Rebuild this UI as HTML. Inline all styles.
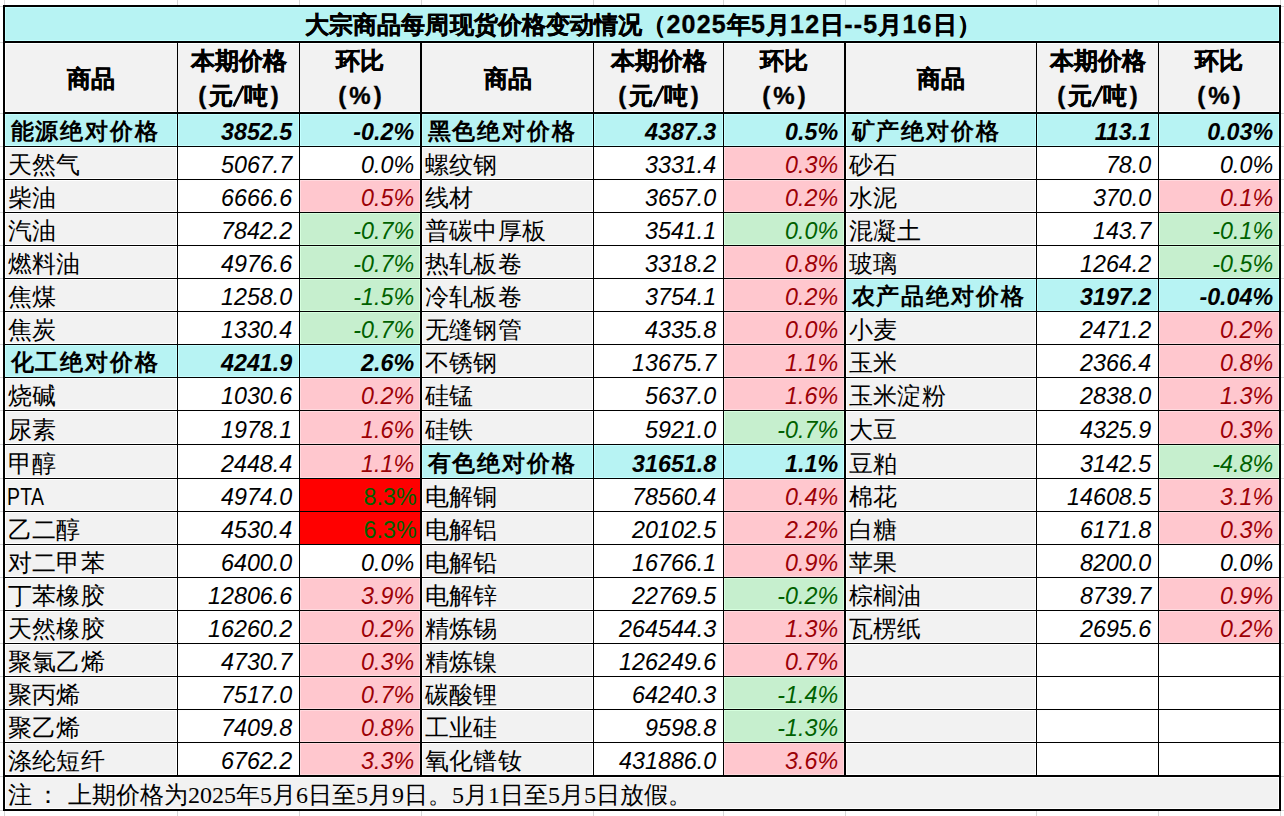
<!DOCTYPE html><html><head><meta charset="utf-8"><style>
html,body{margin:0;padding:0;background:#fff;}
body{width:1284px;height:816px;position:relative;overflow:hidden;font-family:"Liberation Sans",sans-serif;color:#000;}
div{position:absolute;box-sizing:border-box;}
.b{background:#000}
.t{white-space:nowrap;font-size:24px;line-height:33px;}
.nm{padding-left:2.5px;letter-spacing:0.4px;padding-top:1px}
.nm.bd{letter-spacing:1.9px;padding-left:5.5px;font-size:23px;padding-top:1px}
.num{text-align:right;font-style:italic;padding-right:7px;padding-top:1px;transform:scaleX(0.97);transform-origin:100% 50%}
.pc{padding-right:6px}
.bd{font-weight:bold}
.stk{-webkit-text-stroke:0.35px #000}
.gl{background:#d6d6d6}
.note{font-family:"Liberation Serif",serif;font-weight:300;font-size:24px;line-height:32px;white-space:nowrap;}
</style></head><body>
<div class="gl" style="left:4px;top:0;width:1px;height:5px"></div>
<div class="gl" style="left:4px;top:811px;width:1px;height:5px"></div>
<div class="gl" style="left:177px;top:0;width:1px;height:5px"></div>
<div class="gl" style="left:177px;top:811px;width:1px;height:5px"></div>
<div class="gl" style="left:299px;top:0;width:1px;height:5px"></div>
<div class="gl" style="left:299px;top:811px;width:1px;height:5px"></div>
<div class="gl" style="left:421px;top:0;width:1px;height:5px"></div>
<div class="gl" style="left:421px;top:811px;width:1px;height:5px"></div>
<div class="gl" style="left:593px;top:0;width:1px;height:5px"></div>
<div class="gl" style="left:593px;top:811px;width:1px;height:5px"></div>
<div class="gl" style="left:723px;top:0;width:1px;height:5px"></div>
<div class="gl" style="left:723px;top:811px;width:1px;height:5px"></div>
<div class="gl" style="left:845px;top:0;width:1px;height:5px"></div>
<div class="gl" style="left:845px;top:811px;width:1px;height:5px"></div>
<div class="gl" style="left:1036px;top:0;width:1px;height:5px"></div>
<div class="gl" style="left:1036px;top:811px;width:1px;height:5px"></div>
<div class="gl" style="left:1158px;top:0;width:1px;height:5px"></div>
<div class="gl" style="left:1158px;top:811px;width:1px;height:5px"></div>
<div class="gl" style="left:1280px;top:0;width:1px;height:5px"></div>
<div class="gl" style="left:1280px;top:811px;width:1px;height:5px"></div>
<div class="gl" style="left:0;top:6px;width:3px;height:1px"></div>
<div class="gl" style="left:1281px;top:6px;width:3px;height:1px"></div>
<div class="gl" style="left:0;top:42px;width:3px;height:1px"></div>
<div class="gl" style="left:1281px;top:42px;width:3px;height:1px"></div>
<div class="gl" style="left:0;top:113px;width:3px;height:1px"></div>
<div class="gl" style="left:1281px;top:113px;width:3px;height:1px"></div>
<div class="gl" style="left:0;top:146px;width:3px;height:1px"></div>
<div class="gl" style="left:1281px;top:146px;width:3px;height:1px"></div>
<div class="gl" style="left:0;top:179px;width:3px;height:1px"></div>
<div class="gl" style="left:1281px;top:179px;width:3px;height:1px"></div>
<div class="gl" style="left:0;top:212px;width:3px;height:1px"></div>
<div class="gl" style="left:1281px;top:212px;width:3px;height:1px"></div>
<div class="gl" style="left:0;top:245px;width:3px;height:1px"></div>
<div class="gl" style="left:1281px;top:245px;width:3px;height:1px"></div>
<div class="gl" style="left:0;top:278px;width:3px;height:1px"></div>
<div class="gl" style="left:1281px;top:278px;width:3px;height:1px"></div>
<div class="gl" style="left:0;top:311px;width:3px;height:1px"></div>
<div class="gl" style="left:1281px;top:311px;width:3px;height:1px"></div>
<div class="gl" style="left:0;top:344px;width:3px;height:1px"></div>
<div class="gl" style="left:1281px;top:344px;width:3px;height:1px"></div>
<div class="gl" style="left:0;top:377px;width:3px;height:1px"></div>
<div class="gl" style="left:1281px;top:377px;width:3px;height:1px"></div>
<div class="gl" style="left:0;top:410px;width:3px;height:1px"></div>
<div class="gl" style="left:1281px;top:410px;width:3px;height:1px"></div>
<div class="gl" style="left:0;top:444px;width:3px;height:1px"></div>
<div class="gl" style="left:1281px;top:444px;width:3px;height:1px"></div>
<div class="gl" style="left:0;top:478px;width:3px;height:1px"></div>
<div class="gl" style="left:1281px;top:478px;width:3px;height:1px"></div>
<div class="gl" style="left:0;top:511px;width:3px;height:1px"></div>
<div class="gl" style="left:1281px;top:511px;width:3px;height:1px"></div>
<div class="gl" style="left:0;top:544px;width:3px;height:1px"></div>
<div class="gl" style="left:1281px;top:544px;width:3px;height:1px"></div>
<div class="gl" style="left:0;top:577px;width:3px;height:1px"></div>
<div class="gl" style="left:1281px;top:577px;width:3px;height:1px"></div>
<div class="gl" style="left:0;top:610px;width:3px;height:1px"></div>
<div class="gl" style="left:1281px;top:610px;width:3px;height:1px"></div>
<div class="gl" style="left:0;top:643px;width:3px;height:1px"></div>
<div class="gl" style="left:1281px;top:643px;width:3px;height:1px"></div>
<div class="gl" style="left:0;top:676px;width:3px;height:1px"></div>
<div class="gl" style="left:1281px;top:676px;width:3px;height:1px"></div>
<div class="gl" style="left:0;top:709px;width:3px;height:1px"></div>
<div class="gl" style="left:1281px;top:709px;width:3px;height:1px"></div>
<div class="gl" style="left:0;top:742px;width:3px;height:1px"></div>
<div class="gl" style="left:1281px;top:742px;width:3px;height:1px"></div>
<div class="gl" style="left:0;top:776px;width:3px;height:1px"></div>
<div class="gl" style="left:1281px;top:776px;width:3px;height:1px"></div>
<div class="gl" style="left:0;top:810px;width:3px;height:1px"></div>
<div class="gl" style="left:1281px;top:810px;width:3px;height:1px"></div>
<div style="left:5px;top:7px;width:1274px;height:34px;background:#b7f3f3;box-shadow:inset 0 0 0 1px #c4ffff"></div>
<div style="left:5px;top:43px;width:1274px;height:69px;background:#f2f2f2;box-shadow:inset 0 0 0 1px #ffffff"></div>
<div style="left:5px;top:777px;width:1274px;height:32px;background:#f2f2f2;box-shadow:inset 0 0 0 1px #ffffff"></div>
<div style="left:5px;top:114px;width:172px;height:32px;background:#b7f3f3;box-shadow:inset 0 0 0 1px #c4ffff"></div>
<div style="left:178px;top:114px;width:121px;height:32px;background:#b7f3f3;box-shadow:inset 0 0 0 1px #c4ffff"></div>
<div style="left:300px;top:114px;width:120px;height:32px;background:#b7f3f3;box-shadow:inset 0 0 0 1px #c4ffff"></div>
<div style="left:5px;top:147px;width:172px;height:32px;background:#f2f2f2;box-shadow:inset 0 0 0 1px #ffffff"></div>
<div style="left:5px;top:180px;width:172px;height:32px;background:#f2f2f2;box-shadow:inset 0 0 0 1px #ffffff"></div>
<div style="left:300px;top:180px;width:120px;height:32px;background:#ffc7ce;box-shadow:inset 0 0 0 1px #ffd9de"></div>
<div style="left:5px;top:213px;width:172px;height:32px;background:#f2f2f2;box-shadow:inset 0 0 0 1px #ffffff"></div>
<div style="left:300px;top:213px;width:120px;height:32px;background:#c6efce;box-shadow:inset 0 0 0 1px #d6ffde"></div>
<div style="left:5px;top:246px;width:172px;height:32px;background:#f2f2f2;box-shadow:inset 0 0 0 1px #ffffff"></div>
<div style="left:300px;top:246px;width:120px;height:32px;background:#c6efce;box-shadow:inset 0 0 0 1px #d6ffde"></div>
<div style="left:5px;top:279px;width:172px;height:32px;background:#f2f2f2;box-shadow:inset 0 0 0 1px #ffffff"></div>
<div style="left:300px;top:279px;width:120px;height:32px;background:#c6efce;box-shadow:inset 0 0 0 1px #d6ffde"></div>
<div style="left:5px;top:312px;width:172px;height:32px;background:#f2f2f2;box-shadow:inset 0 0 0 1px #ffffff"></div>
<div style="left:300px;top:312px;width:120px;height:32px;background:#c6efce;box-shadow:inset 0 0 0 1px #d6ffde"></div>
<div style="left:5px;top:345px;width:172px;height:32px;background:#b7f3f3;box-shadow:inset 0 0 0 1px #c4ffff"></div>
<div style="left:178px;top:345px;width:121px;height:32px;background:#b7f3f3;box-shadow:inset 0 0 0 1px #c4ffff"></div>
<div style="left:300px;top:345px;width:120px;height:32px;background:#b7f3f3;box-shadow:inset 0 0 0 1px #c4ffff"></div>
<div style="left:5px;top:378px;width:172px;height:32px;background:#f2f2f2;box-shadow:inset 0 0 0 1px #ffffff"></div>
<div style="left:300px;top:378px;width:120px;height:32px;background:#ffc7ce;box-shadow:inset 0 0 0 1px #ffd9de"></div>
<div style="left:5px;top:411px;width:172px;height:33px;background:#f2f2f2;box-shadow:inset 0 0 0 1px #ffffff"></div>
<div style="left:300px;top:411px;width:120px;height:33px;background:#ffc7ce;box-shadow:inset 0 0 0 1px #ffd9de"></div>
<div style="left:5px;top:445px;width:172px;height:33px;background:#f2f2f2;box-shadow:inset 0 0 0 1px #ffffff"></div>
<div style="left:300px;top:445px;width:120px;height:33px;background:#ffc7ce;box-shadow:inset 0 0 0 1px #ffd9de"></div>
<div style="left:5px;top:479px;width:172px;height:32px;background:#f2f2f2;box-shadow:inset 0 0 0 1px #ffffff"></div>
<div style="left:300px;top:479px;width:120px;height:32px;background:#ff0000"></div>
<div style="left:5px;top:512px;width:172px;height:32px;background:#f2f2f2;box-shadow:inset 0 0 0 1px #ffffff"></div>
<div style="left:300px;top:512px;width:120px;height:32px;background:#ff0000"></div>
<div style="left:5px;top:545px;width:172px;height:32px;background:#f2f2f2;box-shadow:inset 0 0 0 1px #ffffff"></div>
<div style="left:5px;top:578px;width:172px;height:32px;background:#f2f2f2;box-shadow:inset 0 0 0 1px #ffffff"></div>
<div style="left:300px;top:578px;width:120px;height:32px;background:#ffc7ce;box-shadow:inset 0 0 0 1px #ffd9de"></div>
<div style="left:5px;top:611px;width:172px;height:32px;background:#f2f2f2;box-shadow:inset 0 0 0 1px #ffffff"></div>
<div style="left:300px;top:611px;width:120px;height:32px;background:#ffc7ce;box-shadow:inset 0 0 0 1px #ffd9de"></div>
<div style="left:5px;top:644px;width:172px;height:32px;background:#f2f2f2;box-shadow:inset 0 0 0 1px #ffffff"></div>
<div style="left:300px;top:644px;width:120px;height:32px;background:#ffc7ce;box-shadow:inset 0 0 0 1px #ffd9de"></div>
<div style="left:5px;top:677px;width:172px;height:32px;background:#f2f2f2;box-shadow:inset 0 0 0 1px #ffffff"></div>
<div style="left:300px;top:677px;width:120px;height:32px;background:#ffc7ce;box-shadow:inset 0 0 0 1px #ffd9de"></div>
<div style="left:5px;top:710px;width:172px;height:32px;background:#f2f2f2;box-shadow:inset 0 0 0 1px #ffffff"></div>
<div style="left:300px;top:710px;width:120px;height:32px;background:#ffc7ce;box-shadow:inset 0 0 0 1px #ffd9de"></div>
<div style="left:5px;top:743px;width:172px;height:32px;background:#f2f2f2;box-shadow:inset 0 0 0 1px #ffffff"></div>
<div style="left:300px;top:743px;width:120px;height:32px;background:#ffc7ce;box-shadow:inset 0 0 0 1px #ffd9de"></div>
<div style="left:422px;top:114px;width:171px;height:32px;background:#b7f3f3;box-shadow:inset 0 0 0 1px #c4ffff"></div>
<div style="left:594px;top:114px;width:129px;height:32px;background:#b7f3f3;box-shadow:inset 0 0 0 1px #c4ffff"></div>
<div style="left:724px;top:114px;width:120px;height:32px;background:#b7f3f3;box-shadow:inset 0 0 0 1px #c4ffff"></div>
<div style="left:422px;top:147px;width:171px;height:32px;background:#f2f2f2;box-shadow:inset 0 0 0 1px #ffffff"></div>
<div style="left:724px;top:147px;width:120px;height:32px;background:#ffc7ce;box-shadow:inset 0 0 0 1px #ffd9de"></div>
<div style="left:422px;top:180px;width:171px;height:32px;background:#f2f2f2;box-shadow:inset 0 0 0 1px #ffffff"></div>
<div style="left:724px;top:180px;width:120px;height:32px;background:#ffc7ce;box-shadow:inset 0 0 0 1px #ffd9de"></div>
<div style="left:422px;top:213px;width:171px;height:32px;background:#f2f2f2;box-shadow:inset 0 0 0 1px #ffffff"></div>
<div style="left:724px;top:213px;width:120px;height:32px;background:#c6efce;box-shadow:inset 0 0 0 1px #d6ffde"></div>
<div style="left:422px;top:246px;width:171px;height:32px;background:#f2f2f2;box-shadow:inset 0 0 0 1px #ffffff"></div>
<div style="left:724px;top:246px;width:120px;height:32px;background:#ffc7ce;box-shadow:inset 0 0 0 1px #ffd9de"></div>
<div style="left:422px;top:279px;width:171px;height:32px;background:#f2f2f2;box-shadow:inset 0 0 0 1px #ffffff"></div>
<div style="left:724px;top:279px;width:120px;height:32px;background:#ffc7ce;box-shadow:inset 0 0 0 1px #ffd9de"></div>
<div style="left:422px;top:312px;width:171px;height:32px;background:#f2f2f2;box-shadow:inset 0 0 0 1px #ffffff"></div>
<div style="left:724px;top:312px;width:120px;height:32px;background:#ffc7ce;box-shadow:inset 0 0 0 1px #ffd9de"></div>
<div style="left:422px;top:345px;width:171px;height:32px;background:#f2f2f2;box-shadow:inset 0 0 0 1px #ffffff"></div>
<div style="left:724px;top:345px;width:120px;height:32px;background:#ffc7ce;box-shadow:inset 0 0 0 1px #ffd9de"></div>
<div style="left:422px;top:378px;width:171px;height:32px;background:#f2f2f2;box-shadow:inset 0 0 0 1px #ffffff"></div>
<div style="left:724px;top:378px;width:120px;height:32px;background:#ffc7ce;box-shadow:inset 0 0 0 1px #ffd9de"></div>
<div style="left:422px;top:411px;width:171px;height:33px;background:#f2f2f2;box-shadow:inset 0 0 0 1px #ffffff"></div>
<div style="left:724px;top:411px;width:120px;height:33px;background:#c6efce;box-shadow:inset 0 0 0 1px #d6ffde"></div>
<div style="left:422px;top:445px;width:171px;height:33px;background:#b7f3f3;box-shadow:inset 0 0 0 1px #c4ffff"></div>
<div style="left:594px;top:445px;width:129px;height:33px;background:#b7f3f3;box-shadow:inset 0 0 0 1px #c4ffff"></div>
<div style="left:724px;top:445px;width:120px;height:33px;background:#b7f3f3;box-shadow:inset 0 0 0 1px #c4ffff"></div>
<div style="left:422px;top:479px;width:171px;height:32px;background:#f2f2f2;box-shadow:inset 0 0 0 1px #ffffff"></div>
<div style="left:724px;top:479px;width:120px;height:32px;background:#ffc7ce;box-shadow:inset 0 0 0 1px #ffd9de"></div>
<div style="left:422px;top:512px;width:171px;height:32px;background:#f2f2f2;box-shadow:inset 0 0 0 1px #ffffff"></div>
<div style="left:724px;top:512px;width:120px;height:32px;background:#ffc7ce;box-shadow:inset 0 0 0 1px #ffd9de"></div>
<div style="left:422px;top:545px;width:171px;height:32px;background:#f2f2f2;box-shadow:inset 0 0 0 1px #ffffff"></div>
<div style="left:724px;top:545px;width:120px;height:32px;background:#ffc7ce;box-shadow:inset 0 0 0 1px #ffd9de"></div>
<div style="left:422px;top:578px;width:171px;height:32px;background:#f2f2f2;box-shadow:inset 0 0 0 1px #ffffff"></div>
<div style="left:724px;top:578px;width:120px;height:32px;background:#c6efce;box-shadow:inset 0 0 0 1px #d6ffde"></div>
<div style="left:422px;top:611px;width:171px;height:32px;background:#f2f2f2;box-shadow:inset 0 0 0 1px #ffffff"></div>
<div style="left:724px;top:611px;width:120px;height:32px;background:#ffc7ce;box-shadow:inset 0 0 0 1px #ffd9de"></div>
<div style="left:422px;top:644px;width:171px;height:32px;background:#f2f2f2;box-shadow:inset 0 0 0 1px #ffffff"></div>
<div style="left:724px;top:644px;width:120px;height:32px;background:#ffc7ce;box-shadow:inset 0 0 0 1px #ffd9de"></div>
<div style="left:422px;top:677px;width:171px;height:32px;background:#f2f2f2;box-shadow:inset 0 0 0 1px #ffffff"></div>
<div style="left:724px;top:677px;width:120px;height:32px;background:#c6efce;box-shadow:inset 0 0 0 1px #d6ffde"></div>
<div style="left:422px;top:710px;width:171px;height:32px;background:#f2f2f2;box-shadow:inset 0 0 0 1px #ffffff"></div>
<div style="left:724px;top:710px;width:120px;height:32px;background:#c6efce;box-shadow:inset 0 0 0 1px #d6ffde"></div>
<div style="left:422px;top:743px;width:171px;height:32px;background:#f2f2f2;box-shadow:inset 0 0 0 1px #ffffff"></div>
<div style="left:724px;top:743px;width:120px;height:32px;background:#ffc7ce;box-shadow:inset 0 0 0 1px #ffd9de"></div>
<div style="left:846px;top:114px;width:190px;height:32px;background:#b7f3f3;box-shadow:inset 0 0 0 1px #c4ffff"></div>
<div style="left:1037px;top:114px;width:121px;height:32px;background:#b7f3f3;box-shadow:inset 0 0 0 1px #c4ffff"></div>
<div style="left:1159px;top:114px;width:120px;height:32px;background:#b7f3f3;box-shadow:inset 0 0 0 1px #c4ffff"></div>
<div style="left:846px;top:147px;width:190px;height:32px;background:#f2f2f2;box-shadow:inset 0 0 0 1px #ffffff"></div>
<div style="left:846px;top:180px;width:190px;height:32px;background:#f2f2f2;box-shadow:inset 0 0 0 1px #ffffff"></div>
<div style="left:1159px;top:180px;width:120px;height:32px;background:#ffc7ce;box-shadow:inset 0 0 0 1px #ffd9de"></div>
<div style="left:846px;top:213px;width:190px;height:32px;background:#f2f2f2;box-shadow:inset 0 0 0 1px #ffffff"></div>
<div style="left:1159px;top:213px;width:120px;height:32px;background:#c6efce;box-shadow:inset 0 0 0 1px #d6ffde"></div>
<div style="left:846px;top:246px;width:190px;height:32px;background:#f2f2f2;box-shadow:inset 0 0 0 1px #ffffff"></div>
<div style="left:1159px;top:246px;width:120px;height:32px;background:#c6efce;box-shadow:inset 0 0 0 1px #d6ffde"></div>
<div style="left:846px;top:279px;width:190px;height:32px;background:#b7f3f3;box-shadow:inset 0 0 0 1px #c4ffff"></div>
<div style="left:1037px;top:279px;width:121px;height:32px;background:#b7f3f3;box-shadow:inset 0 0 0 1px #c4ffff"></div>
<div style="left:1159px;top:279px;width:120px;height:32px;background:#b7f3f3;box-shadow:inset 0 0 0 1px #c4ffff"></div>
<div style="left:846px;top:312px;width:190px;height:32px;background:#f2f2f2;box-shadow:inset 0 0 0 1px #ffffff"></div>
<div style="left:1159px;top:312px;width:120px;height:32px;background:#ffc7ce;box-shadow:inset 0 0 0 1px #ffd9de"></div>
<div style="left:846px;top:345px;width:190px;height:32px;background:#f2f2f2;box-shadow:inset 0 0 0 1px #ffffff"></div>
<div style="left:1159px;top:345px;width:120px;height:32px;background:#ffc7ce;box-shadow:inset 0 0 0 1px #ffd9de"></div>
<div style="left:846px;top:378px;width:190px;height:32px;background:#f2f2f2;box-shadow:inset 0 0 0 1px #ffffff"></div>
<div style="left:1159px;top:378px;width:120px;height:32px;background:#ffc7ce;box-shadow:inset 0 0 0 1px #ffd9de"></div>
<div style="left:846px;top:411px;width:190px;height:33px;background:#f2f2f2;box-shadow:inset 0 0 0 1px #ffffff"></div>
<div style="left:1159px;top:411px;width:120px;height:33px;background:#ffc7ce;box-shadow:inset 0 0 0 1px #ffd9de"></div>
<div style="left:846px;top:445px;width:190px;height:33px;background:#f2f2f2;box-shadow:inset 0 0 0 1px #ffffff"></div>
<div style="left:1159px;top:445px;width:120px;height:33px;background:#c6efce;box-shadow:inset 0 0 0 1px #d6ffde"></div>
<div style="left:846px;top:479px;width:190px;height:32px;background:#f2f2f2;box-shadow:inset 0 0 0 1px #ffffff"></div>
<div style="left:1159px;top:479px;width:120px;height:32px;background:#ffc7ce;box-shadow:inset 0 0 0 1px #ffd9de"></div>
<div style="left:846px;top:512px;width:190px;height:32px;background:#f2f2f2;box-shadow:inset 0 0 0 1px #ffffff"></div>
<div style="left:1159px;top:512px;width:120px;height:32px;background:#ffc7ce;box-shadow:inset 0 0 0 1px #ffd9de"></div>
<div style="left:846px;top:545px;width:190px;height:32px;background:#f2f2f2;box-shadow:inset 0 0 0 1px #ffffff"></div>
<div style="left:846px;top:578px;width:190px;height:32px;background:#f2f2f2;box-shadow:inset 0 0 0 1px #ffffff"></div>
<div style="left:1159px;top:578px;width:120px;height:32px;background:#ffc7ce;box-shadow:inset 0 0 0 1px #ffd9de"></div>
<div style="left:846px;top:611px;width:190px;height:32px;background:#f2f2f2;box-shadow:inset 0 0 0 1px #ffffff"></div>
<div style="left:1159px;top:611px;width:120px;height:32px;background:#ffc7ce;box-shadow:inset 0 0 0 1px #ffd9de"></div>
<div style="left:846px;top:644px;width:190px;height:32px;background:#f2f2f2;box-shadow:inset 0 0 0 1px #ffffff"></div>
<div style="left:846px;top:677px;width:190px;height:32px;background:#f2f2f2;box-shadow:inset 0 0 0 1px #ffffff"></div>
<div style="left:846px;top:710px;width:190px;height:32px;background:#f2f2f2;box-shadow:inset 0 0 0 1px #ffffff"></div>
<div style="left:846px;top:743px;width:190px;height:32px;background:#f2f2f2;box-shadow:inset 0 0 0 1px #ffffff"></div>
<div class="b" style="left:3px;top:5px;width:2px;height:806px"></div>
<div class="b" style="left:177px;top:5px;width:1px;height:806px"></div>
<div class="b" style="left:299px;top:5px;width:1px;height:806px"></div>
<div class="b" style="left:420px;top:5px;width:2px;height:806px"></div>
<div class="b" style="left:593px;top:5px;width:1px;height:806px"></div>
<div class="b" style="left:723px;top:5px;width:1px;height:806px"></div>
<div class="b" style="left:844px;top:5px;width:2px;height:806px"></div>
<div class="b" style="left:1036px;top:5px;width:1px;height:806px"></div>
<div class="b" style="left:1158px;top:5px;width:1px;height:806px"></div>
<div class="b" style="left:1279px;top:5px;width:2px;height:806px"></div>
<div class="b" style="left:3px;top:5px;width:1278px;height:2px"></div>
<div class="b" style="left:3px;top:41px;width:1278px;height:2px"></div>
<div class="b" style="left:3px;top:112px;width:1278px;height:2px"></div>
<div class="b" style="left:3px;top:146px;width:1278px;height:1px"></div>
<div class="b" style="left:3px;top:179px;width:1278px;height:1px"></div>
<div class="b" style="left:3px;top:212px;width:1278px;height:1px"></div>
<div class="b" style="left:3px;top:245px;width:1278px;height:1px"></div>
<div class="b" style="left:3px;top:278px;width:1278px;height:1px"></div>
<div class="b" style="left:3px;top:311px;width:1278px;height:1px"></div>
<div class="b" style="left:3px;top:344px;width:1278px;height:1px"></div>
<div class="b" style="left:3px;top:377px;width:1278px;height:1px"></div>
<div class="b" style="left:3px;top:410px;width:1278px;height:1px"></div>
<div class="b" style="left:3px;top:444px;width:1278px;height:1px"></div>
<div class="b" style="left:3px;top:478px;width:1278px;height:1px"></div>
<div class="b" style="left:3px;top:511px;width:1278px;height:1px"></div>
<div class="b" style="left:3px;top:544px;width:1278px;height:1px"></div>
<div class="b" style="left:3px;top:577px;width:1278px;height:1px"></div>
<div class="b" style="left:3px;top:610px;width:1278px;height:1px"></div>
<div class="b" style="left:3px;top:643px;width:1278px;height:1px"></div>
<div class="b" style="left:3px;top:676px;width:1278px;height:1px"></div>
<div class="b" style="left:3px;top:709px;width:1278px;height:1px"></div>
<div class="b" style="left:3px;top:742px;width:1278px;height:1px"></div>
<div class="b" style="left:3px;top:775px;width:1278px;height:2px"></div>
<div class="b" style="left:3px;top:809px;width:1278px;height:2px"></div>
<div style="left:5px;top:7px;width:1274px;height:34px;background:#b7f3f3;box-shadow:inset 0 0 0 1px #c4ffff"></div>
<div style="left:5px;top:777px;width:1274px;height:32px;background:#f2f2f2;box-shadow:inset 0 0 0 1px #ffffff"></div>
<div class="t bd stk" style="left:305px;top:7px;height:34px;line-height:34px;font-size:24px"><span style="letter-spacing:0.1px">大宗商品每周现货价格变动情况（</span><span style="font-size:25px;letter-spacing:1.2px">2025</span>年<span style="font-size:25px;letter-spacing:1.2px">5</span>月<span style="font-size:25px;letter-spacing:1.2px">12</span>日<span style="font-size:25px;letter-spacing:1.2px">--5</span>月<span style="font-size:25px;letter-spacing:1.2px">16</span>日）</div>
<div class="t bd stk" style="left:5px;top:44px;width:172px;height:69px;line-height:69px;text-align:center">商品</div>
<div class="t bd stk" style="left:178px;top:44px;width:121px;line-height:33px;text-align:center">本期价格<br><span style="position:relative;top:2px;letter-spacing:2.5px;padding-left:2.5px">(元<svg width="9.2" height="22" viewBox="0 0 9.2 22" style="overflow:visible;vertical-align:-3px"><line x1="-1.5" y1="21.5" x2="8.5" y2="1" stroke="#000" stroke-width="2.7"/></svg>吨)</span></div>
<div class="t bd stk" style="left:300px;top:44px;width:120px;line-height:33px;text-align:center">环比<br><span style="position:relative;top:2px;letter-spacing:3px;padding-left:3px">(%)</span></div>
<div class="t bd stk" style="left:422px;top:44px;width:171px;height:69px;line-height:69px;text-align:center">商品</div>
<div class="t bd stk" style="left:594px;top:44px;width:129px;line-height:33px;text-align:center">本期价格<br><span style="position:relative;top:2px;letter-spacing:2.5px;padding-left:2.5px">(元<svg width="9.2" height="22" viewBox="0 0 9.2 22" style="overflow:visible;vertical-align:-3px"><line x1="-1.5" y1="21.5" x2="8.5" y2="1" stroke="#000" stroke-width="2.7"/></svg>吨)</span></div>
<div class="t bd stk" style="left:724px;top:44px;width:120px;line-height:33px;text-align:center">环比<br><span style="position:relative;top:2px;letter-spacing:3px;padding-left:3px">(%)</span></div>
<div class="t bd stk" style="left:846px;top:44px;width:190px;height:69px;line-height:69px;text-align:center">商品</div>
<div class="t bd stk" style="left:1037px;top:44px;width:121px;line-height:33px;text-align:center">本期价格<br><span style="position:relative;top:2px;letter-spacing:2.5px;padding-left:2.5px">(元<svg width="9.2" height="22" viewBox="0 0 9.2 22" style="overflow:visible;vertical-align:-3px"><line x1="-1.5" y1="21.5" x2="8.5" y2="1" stroke="#000" stroke-width="2.7"/></svg>吨)</span></div>
<div class="t bd stk" style="left:1159px;top:44px;width:120px;line-height:33px;text-align:center">环比<br><span style="position:relative;top:2px;letter-spacing:3px;padding-left:3px">(%)</span></div>
<div class="t nm bd" style="left:5px;top:114px;width:172px;height:32px">能源绝对价格</div>
<div class="t num bd" style="left:178px;top:114px;width:121px;height:32px">3852.5</div>
<div class="t num pc bd" style="left:300px;top:114px;width:120px;height:32px;color:#000;">-0.2%</div>
<div class="t nm" style="left:5px;top:147px;width:172px;height:32px">天然气</div>
<div class="t num" style="left:178px;top:147px;width:121px;height:32px">5067.7</div>
<div class="t num pc" style="left:300px;top:147px;width:120px;height:32px;color:#000;">0.0%</div>
<div class="t nm" style="left:5px;top:180px;width:172px;height:32px">柴油</div>
<div class="t num" style="left:178px;top:180px;width:121px;height:32px">6666.6</div>
<div class="t num pc" style="left:300px;top:180px;width:120px;height:32px;color:#9c0006;">0.5%</div>
<div class="t nm" style="left:5px;top:213px;width:172px;height:32px">汽油</div>
<div class="t num" style="left:178px;top:213px;width:121px;height:32px">7842.2</div>
<div class="t num pc" style="left:300px;top:213px;width:120px;height:32px;color:#006100;">-0.7%</div>
<div class="t nm" style="left:5px;top:246px;width:172px;height:32px">燃料油</div>
<div class="t num" style="left:178px;top:246px;width:121px;height:32px">4976.6</div>
<div class="t num pc" style="left:300px;top:246px;width:120px;height:32px;color:#006100;">-0.7%</div>
<div class="t nm" style="left:5px;top:279px;width:172px;height:32px">焦煤</div>
<div class="t num" style="left:178px;top:279px;width:121px;height:32px">1258.0</div>
<div class="t num pc" style="left:300px;top:279px;width:120px;height:32px;color:#006100;">-1.5%</div>
<div class="t nm" style="left:5px;top:312px;width:172px;height:32px">焦炭</div>
<div class="t num" style="left:178px;top:312px;width:121px;height:32px">1330.4</div>
<div class="t num pc" style="left:300px;top:312px;width:120px;height:32px;color:#006100;">-0.7%</div>
<div class="t nm bd" style="left:5px;top:345px;width:172px;height:32px">化工绝对价格</div>
<div class="t num bd" style="left:178px;top:345px;width:121px;height:32px">4241.9</div>
<div class="t num pc bd" style="left:300px;top:345px;width:120px;height:32px;color:#000;">2.6%</div>
<div class="t nm" style="left:5px;top:378px;width:172px;height:32px">烧碱</div>
<div class="t num" style="left:178px;top:378px;width:121px;height:32px">1030.6</div>
<div class="t num pc" style="left:300px;top:378px;width:120px;height:32px;color:#9c0006;">0.2%</div>
<div class="t nm" style="left:5px;top:412px;width:172px;height:32px">尿素</div>
<div class="t num" style="left:178px;top:412px;width:121px;height:32px">1978.1</div>
<div class="t num pc" style="left:300px;top:412px;width:120px;height:32px;color:#9c0006;">1.6%</div>
<div class="t nm" style="left:5px;top:446px;width:172px;height:32px">甲醇</div>
<div class="t num" style="left:178px;top:446px;width:121px;height:32px">2448.4</div>
<div class="t num pc" style="left:300px;top:446px;width:120px;height:32px;color:#9c0006;">1.1%</div>
<div class="t nm" style="left:5px;top:479px;width:172px;height:32px"><span style="display:inline-block;transform:scaleX(0.81);transform-origin:0 50%;margin-left:-1px">PTA</span></div>
<div class="t num" style="left:178px;top:479px;width:121px;height:32px">4974.0</div>
<div class="t num pc" style="left:300px;top:479px;width:120px;height:32px;color:#006100;font-style:normal;padding-right:3.5px;">8.3%</div>
<div class="t nm" style="left:5px;top:512px;width:172px;height:32px">乙二醇</div>
<div class="t num" style="left:178px;top:512px;width:121px;height:32px">4530.4</div>
<div class="t num pc" style="left:300px;top:512px;width:120px;height:32px;color:#006100;font-style:normal;padding-right:3.5px;">6.3%</div>
<div class="t nm" style="left:5px;top:545px;width:172px;height:32px">对二甲苯</div>
<div class="t num" style="left:178px;top:545px;width:121px;height:32px">6400.0</div>
<div class="t num pc" style="left:300px;top:545px;width:120px;height:32px;color:#000;">0.0%</div>
<div class="t nm" style="left:5px;top:578px;width:172px;height:32px">丁苯橡胶</div>
<div class="t num" style="left:178px;top:578px;width:121px;height:32px">12806.6</div>
<div class="t num pc" style="left:300px;top:578px;width:120px;height:32px;color:#9c0006;">3.9%</div>
<div class="t nm" style="left:5px;top:611px;width:172px;height:32px">天然橡胶</div>
<div class="t num" style="left:178px;top:611px;width:121px;height:32px">16260.2</div>
<div class="t num pc" style="left:300px;top:611px;width:120px;height:32px;color:#9c0006;">0.2%</div>
<div class="t nm" style="left:5px;top:644px;width:172px;height:32px">聚氯乙烯</div>
<div class="t num" style="left:178px;top:644px;width:121px;height:32px">4730.7</div>
<div class="t num pc" style="left:300px;top:644px;width:120px;height:32px;color:#9c0006;">0.3%</div>
<div class="t nm" style="left:5px;top:677px;width:172px;height:32px">聚丙烯</div>
<div class="t num" style="left:178px;top:677px;width:121px;height:32px">7517.0</div>
<div class="t num pc" style="left:300px;top:677px;width:120px;height:32px;color:#9c0006;">0.7%</div>
<div class="t nm" style="left:5px;top:710px;width:172px;height:32px">聚乙烯</div>
<div class="t num" style="left:178px;top:710px;width:121px;height:32px">7409.8</div>
<div class="t num pc" style="left:300px;top:710px;width:120px;height:32px;color:#9c0006;">0.8%</div>
<div class="t nm" style="left:5px;top:743px;width:172px;height:32px">涤纶短纤</div>
<div class="t num" style="left:178px;top:743px;width:121px;height:32px">6762.2</div>
<div class="t num pc" style="left:300px;top:743px;width:120px;height:32px;color:#9c0006;">3.3%</div>
<div class="t nm bd" style="left:422px;top:114px;width:171px;height:32px">黑色绝对价格</div>
<div class="t num bd" style="left:594px;top:114px;width:129px;height:32px">4387.3</div>
<div class="t num pc bd" style="left:724px;top:114px;width:120px;height:32px;color:#000;">0.5%</div>
<div class="t nm" style="left:422px;top:147px;width:171px;height:32px">螺纹钢</div>
<div class="t num" style="left:594px;top:147px;width:129px;height:32px">3331.4</div>
<div class="t num pc" style="left:724px;top:147px;width:120px;height:32px;color:#9c0006;">0.3%</div>
<div class="t nm" style="left:422px;top:180px;width:171px;height:32px">线材</div>
<div class="t num" style="left:594px;top:180px;width:129px;height:32px">3657.0</div>
<div class="t num pc" style="left:724px;top:180px;width:120px;height:32px;color:#9c0006;">0.2%</div>
<div class="t nm" style="left:422px;top:213px;width:171px;height:32px">普碳中厚板</div>
<div class="t num" style="left:594px;top:213px;width:129px;height:32px">3541.1</div>
<div class="t num pc" style="left:724px;top:213px;width:120px;height:32px;color:#006100;">0.0%</div>
<div class="t nm" style="left:422px;top:246px;width:171px;height:32px">热轧板卷</div>
<div class="t num" style="left:594px;top:246px;width:129px;height:32px">3318.2</div>
<div class="t num pc" style="left:724px;top:246px;width:120px;height:32px;color:#9c0006;">0.8%</div>
<div class="t nm" style="left:422px;top:279px;width:171px;height:32px">冷轧板卷</div>
<div class="t num" style="left:594px;top:279px;width:129px;height:32px">3754.1</div>
<div class="t num pc" style="left:724px;top:279px;width:120px;height:32px;color:#9c0006;">0.2%</div>
<div class="t nm" style="left:422px;top:312px;width:171px;height:32px">无缝钢管</div>
<div class="t num" style="left:594px;top:312px;width:129px;height:32px">4335.8</div>
<div class="t num pc" style="left:724px;top:312px;width:120px;height:32px;color:#9c0006;">0.0%</div>
<div class="t nm" style="left:422px;top:345px;width:171px;height:32px">不锈钢</div>
<div class="t num" style="left:594px;top:345px;width:129px;height:32px">13675.7</div>
<div class="t num pc" style="left:724px;top:345px;width:120px;height:32px;color:#9c0006;">1.1%</div>
<div class="t nm" style="left:422px;top:378px;width:171px;height:32px">硅锰</div>
<div class="t num" style="left:594px;top:378px;width:129px;height:32px">5637.0</div>
<div class="t num pc" style="left:724px;top:378px;width:120px;height:32px;color:#9c0006;">1.6%</div>
<div class="t nm" style="left:422px;top:412px;width:171px;height:32px">硅铁</div>
<div class="t num" style="left:594px;top:412px;width:129px;height:32px">5921.0</div>
<div class="t num pc" style="left:724px;top:412px;width:120px;height:32px;color:#006100;">-0.7%</div>
<div class="t nm bd" style="left:422px;top:446px;width:171px;height:32px">有色绝对价格</div>
<div class="t num bd" style="left:594px;top:446px;width:129px;height:32px">31651.8</div>
<div class="t num pc bd" style="left:724px;top:446px;width:120px;height:32px;color:#000;">1.1%</div>
<div class="t nm" style="left:422px;top:479px;width:171px;height:32px">电解铜</div>
<div class="t num" style="left:594px;top:479px;width:129px;height:32px">78560.4</div>
<div class="t num pc" style="left:724px;top:479px;width:120px;height:32px;color:#9c0006;">0.4%</div>
<div class="t nm" style="left:422px;top:512px;width:171px;height:32px">电解铝</div>
<div class="t num" style="left:594px;top:512px;width:129px;height:32px">20102.5</div>
<div class="t num pc" style="left:724px;top:512px;width:120px;height:32px;color:#9c0006;">2.2%</div>
<div class="t nm" style="left:422px;top:545px;width:171px;height:32px">电解铅</div>
<div class="t num" style="left:594px;top:545px;width:129px;height:32px">16766.1</div>
<div class="t num pc" style="left:724px;top:545px;width:120px;height:32px;color:#9c0006;">0.9%</div>
<div class="t nm" style="left:422px;top:578px;width:171px;height:32px">电解锌</div>
<div class="t num" style="left:594px;top:578px;width:129px;height:32px">22769.5</div>
<div class="t num pc" style="left:724px;top:578px;width:120px;height:32px;color:#006100;">-0.2%</div>
<div class="t nm" style="left:422px;top:611px;width:171px;height:32px">精炼锡</div>
<div class="t num" style="left:594px;top:611px;width:129px;height:32px">264544.3</div>
<div class="t num pc" style="left:724px;top:611px;width:120px;height:32px;color:#9c0006;">1.3%</div>
<div class="t nm" style="left:422px;top:644px;width:171px;height:32px">精炼镍</div>
<div class="t num" style="left:594px;top:644px;width:129px;height:32px">126249.6</div>
<div class="t num pc" style="left:724px;top:644px;width:120px;height:32px;color:#9c0006;">0.7%</div>
<div class="t nm" style="left:422px;top:677px;width:171px;height:32px">碳酸锂</div>
<div class="t num" style="left:594px;top:677px;width:129px;height:32px">64240.3</div>
<div class="t num pc" style="left:724px;top:677px;width:120px;height:32px;color:#006100;">-1.4%</div>
<div class="t nm" style="left:422px;top:710px;width:171px;height:32px">工业硅</div>
<div class="t num" style="left:594px;top:710px;width:129px;height:32px">9598.8</div>
<div class="t num pc" style="left:724px;top:710px;width:120px;height:32px;color:#006100;">-1.3%</div>
<div class="t nm" style="left:422px;top:743px;width:171px;height:32px">氧化镨钕</div>
<div class="t num" style="left:594px;top:743px;width:129px;height:32px">431886.0</div>
<div class="t num pc" style="left:724px;top:743px;width:120px;height:32px;color:#9c0006;">3.6%</div>
<div class="t nm bd" style="left:846px;top:114px;width:190px;height:32px">矿产绝对价格</div>
<div class="t num bd" style="left:1037px;top:114px;width:121px;height:32px">113.1</div>
<div class="t num pc bd" style="left:1159px;top:114px;width:120px;height:32px;color:#000;">0.03%</div>
<div class="t nm" style="left:846px;top:147px;width:190px;height:32px">砂石</div>
<div class="t num" style="left:1037px;top:147px;width:121px;height:32px">78.0</div>
<div class="t num pc" style="left:1159px;top:147px;width:120px;height:32px;color:#000;">0.0%</div>
<div class="t nm" style="left:846px;top:180px;width:190px;height:32px">水泥</div>
<div class="t num" style="left:1037px;top:180px;width:121px;height:32px">370.0</div>
<div class="t num pc" style="left:1159px;top:180px;width:120px;height:32px;color:#9c0006;">0.1%</div>
<div class="t nm" style="left:846px;top:213px;width:190px;height:32px">混凝土</div>
<div class="t num" style="left:1037px;top:213px;width:121px;height:32px">143.7</div>
<div class="t num pc" style="left:1159px;top:213px;width:120px;height:32px;color:#006100;">-0.1%</div>
<div class="t nm" style="left:846px;top:246px;width:190px;height:32px">玻璃</div>
<div class="t num" style="left:1037px;top:246px;width:121px;height:32px">1264.2</div>
<div class="t num pc" style="left:1159px;top:246px;width:120px;height:32px;color:#006100;">-0.5%</div>
<div class="t nm bd" style="left:846px;top:279px;width:190px;height:32px">农产品绝对价格</div>
<div class="t num bd" style="left:1037px;top:279px;width:121px;height:32px">3197.2</div>
<div class="t num pc bd" style="left:1159px;top:279px;width:120px;height:32px;color:#000;">-0.04%</div>
<div class="t nm" style="left:846px;top:312px;width:190px;height:32px">小麦</div>
<div class="t num" style="left:1037px;top:312px;width:121px;height:32px">2471.2</div>
<div class="t num pc" style="left:1159px;top:312px;width:120px;height:32px;color:#9c0006;">0.2%</div>
<div class="t nm" style="left:846px;top:345px;width:190px;height:32px">玉米</div>
<div class="t num" style="left:1037px;top:345px;width:121px;height:32px">2366.4</div>
<div class="t num pc" style="left:1159px;top:345px;width:120px;height:32px;color:#9c0006;">0.8%</div>
<div class="t nm" style="left:846px;top:378px;width:190px;height:32px">玉米淀粉</div>
<div class="t num" style="left:1037px;top:378px;width:121px;height:32px">2838.0</div>
<div class="t num pc" style="left:1159px;top:378px;width:120px;height:32px;color:#9c0006;">1.3%</div>
<div class="t nm" style="left:846px;top:412px;width:190px;height:32px">大豆</div>
<div class="t num" style="left:1037px;top:412px;width:121px;height:32px">4325.9</div>
<div class="t num pc" style="left:1159px;top:412px;width:120px;height:32px;color:#9c0006;">0.3%</div>
<div class="t nm" style="left:846px;top:446px;width:190px;height:32px">豆粕</div>
<div class="t num" style="left:1037px;top:446px;width:121px;height:32px">3142.5</div>
<div class="t num pc" style="left:1159px;top:446px;width:120px;height:32px;color:#006100;">-4.8%</div>
<div class="t nm" style="left:846px;top:479px;width:190px;height:32px">棉花</div>
<div class="t num" style="left:1037px;top:479px;width:121px;height:32px">14608.5</div>
<div class="t num pc" style="left:1159px;top:479px;width:120px;height:32px;color:#9c0006;">3.1%</div>
<div class="t nm" style="left:846px;top:512px;width:190px;height:32px">白糖</div>
<div class="t num" style="left:1037px;top:512px;width:121px;height:32px">6171.8</div>
<div class="t num pc" style="left:1159px;top:512px;width:120px;height:32px;color:#9c0006;">0.3%</div>
<div class="t nm" style="left:846px;top:545px;width:190px;height:32px">苹果</div>
<div class="t num" style="left:1037px;top:545px;width:121px;height:32px">8200.0</div>
<div class="t num pc" style="left:1159px;top:545px;width:120px;height:32px;color:#000;">0.0%</div>
<div class="t nm" style="left:846px;top:578px;width:190px;height:32px">棕榈油</div>
<div class="t num" style="left:1037px;top:578px;width:121px;height:32px">8739.7</div>
<div class="t num pc" style="left:1159px;top:578px;width:120px;height:32px;color:#9c0006;">0.9%</div>
<div class="t nm" style="left:846px;top:611px;width:190px;height:32px">瓦楞纸</div>
<div class="t num" style="left:1037px;top:611px;width:121px;height:32px">2695.6</div>
<div class="t num pc" style="left:1159px;top:611px;width:120px;height:32px;color:#9c0006;">0.2%</div>
<div class="note" style="left:8px;top:779px">注</div>
<div class="note" style="left:36px;top:779px">：</div>
<div class="note" style="left:68px;top:779px">上期价格为2025年5月6日至5月9日。5月1日至5月5日放假。</div>
</body></html>
